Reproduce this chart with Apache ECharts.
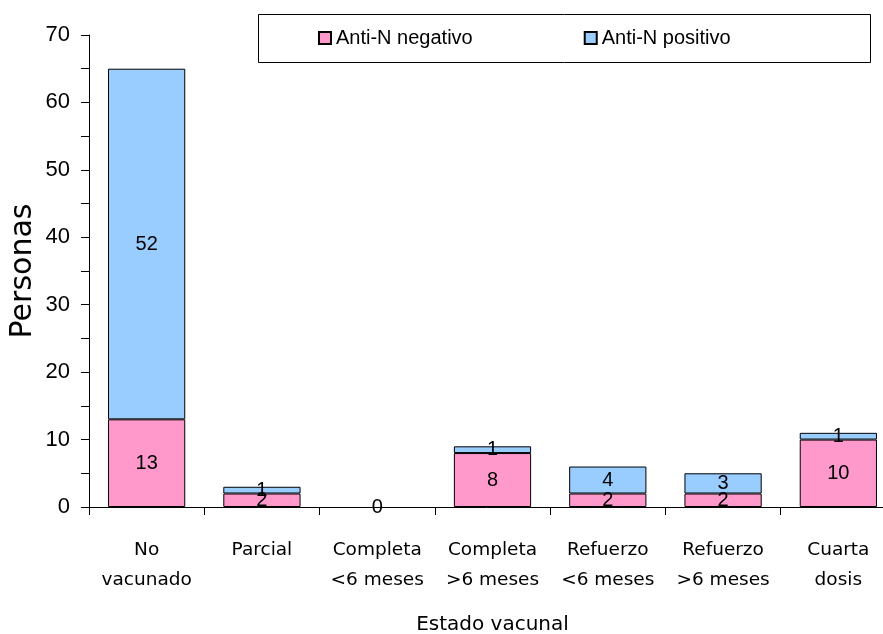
<!DOCTYPE html>
<html><head><meta charset="utf-8">
<script src="https://cdn.jsdelivr.net/npm/echarts@6/dist/echarts.min.js"></script>
<style>html,body{margin:0;padding:0;background:#fff}#c{width:883px;height:634px}</style>
</head><body><div id="c"></div>
<script>
const categories = ['No\nvacunado', 'Parcial', 'Completa\n<6 meses', 'Completa\n>6 meses', 'Refuerzo\n<6 meses', 'Refuerzo\n>6 meses', 'Cuarta\ndosis'];
const negativo = [13, 2, 0, 8, 2, 2, 10];
const positivo = [52, 1, 0, 1, 4, 3, 1];
const seriesNames = ['Anti-N negativo', 'Anti-N positivo'];
const yTicks = [0, 10, 20, 30, 40, 50, 60, 70];

const NUM = 'Liberation Sans';
const TXT = 'DejaVu Sans';
const chart = echarts.init(document.getElementById('c'), null, {renderer: 'canvas'});
const labelStyle = {show: true, position: 'inside', color: '#000', fontFamily: NUM, fontSize: 20};
const toItems = arr => arr.map(v => v === 0 ? {value: v, itemStyle: {borderWidth: 0}} : v);
chart.setOption({
  animation: false,
  graphic: [{type: 'rect', left: 258, top: 14, shape: {width: 612, height: 48}, style: {fill: '#fff', stroke: '#000', lineWidth: 1}, z: 1}],
  legend: {
    left: 318, top: 28, padding: 0, itemWidth: 12, itemHeight: 12, itemGap: 111, icon: 'rect',
    textStyle: {fontFamily: NUM, fontSize: 20, color: '#000'},
    data: seriesNames, z: 5
  },
  grid: {left: 89, right: -13, top: 35, bottom: 127, containLabel: false, outerBoundsMode: 'none'},
  xAxis: {
    type: 'category', data: categories,
    name: 'Estado vacunal', nameLocation: 'middle', nameGap: 108, nameMoveOverlap: false,
    nameTextStyle: {fontFamily: TXT, fontSize: 20, color: '#000'},
    axisLine: {lineStyle: {color: '#000', width: 1}},
    axisTick: {show: true, interval: 0, length: 8, lineStyle: {color: '#000'}},
    axisLabel: {interval: 0, fontFamily: TXT, fontSize: 18.5, color: '#000', lineHeight: 30, margin: 28}
  },
  yAxis: {
    type: 'value', min: 0, max: 70, interval: 10,
    name: 'Personas', nameLocation: 'middle', nameGap: 51, nameMoveOverlap: false,
    nameTextStyle: {fontFamily: TXT, fontSize: 30, color: '#000'},
    axisLine: {show: true, lineStyle: {color: '#000', width: 1}},
    axisTick: {show: true, length: 8, lineStyle: {color: '#000'}},
    minorTick: {show: true, splitNumber: 2, length: 8, lineStyle: {color: '#000'}},
    splitLine: {show: false},
    axisLabel: {fontFamily: NUM, fontSize: 22, color: '#000', margin: 19,
      formatter: v => yTicks.includes(v) ? String(v) : ''}
  },
  series: [
    {name: seriesNames[0], type: 'bar', stack: 's', data: toItems(negativo), barWidth: '67%',
     itemStyle: {color: '#FF99CC', borderColor: '#000', borderWidth: 1},
     label: labelStyle},
    {name: seriesNames[1], type: 'bar', stack: 's', data: toItems(positivo), barWidth: '67%',
     itemStyle: {color: '#99CCFF', borderColor: '#000', borderWidth: 1},
     label: Object.assign({}, labelStyle, {formatter: p => p.value === 0 ? '' : String(p.value)})}
  ]
});
</script></body></html>
